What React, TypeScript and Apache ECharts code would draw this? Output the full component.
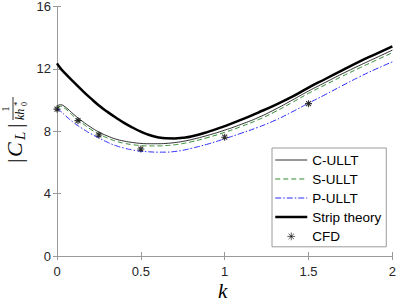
import React, { useEffect, useRef } from "react";
import * as echarts from "echarts";

const kGrid = [0, 0.02, 0.05, 0.1, 0.15, 0.2, 0.25, 0.3, 0.35, 0.4, 0.45, 0.5, 0.55, 0.6, 0.65, 0.7, 0.75, 0.8, 0.9, 1.0, 1.1, 1.2, 1.3, 1.4, 1.5, 1.6, 1.7, 1.8, 1.9, 2.0];
const cUllt = [9.62, 9.7, 9.55, 9.08, 8.65, 8.27, 7.95, 7.7, 7.5, 7.37, 7.28, 7.22, 7.2, 7.2, 7.22, 7.27, 7.35, 7.46, 7.74, 8.07, 8.45, 8.88, 9.4, 9.98, 10.58, 11.13, 11.68, 12.2, 12.7, 13.2];
const sUllt = [9.52, 9.6, 9.44, 8.95, 8.52, 8.13, 7.82, 7.57, 7.37, 7.23, 7.14, 7.08, 7.06, 7.06, 7.08, 7.13, 7.21, 7.32, 7.6, 7.93, 8.31, 8.74, 9.25, 9.83, 10.43, 10.98, 11.52, 12.04, 12.54, 13.04];
const pUllt = [9.48, 9.3, 9.0, 8.55, 8.18, 7.85, 7.57, 7.3, 7.08, 6.92, 6.8, 6.72, 6.68, 6.66, 6.66, 6.7, 6.78, 6.9, 7.18, 7.52, 7.88, 8.26, 8.7, 9.23, 9.8, 10.35, 10.92, 11.47, 11.98, 12.45];
const stripTheory = [12.35, 12.05, 11.7, 11.15, 10.62, 10.12, 9.65, 9.25, 8.88, 8.54, 8.24, 7.97, 7.76, 7.62, 7.55, 7.54, 7.58, 7.66, 7.96, 8.33, 8.74, 9.2, 9.68, 10.2, 10.8, 11.35, 11.9, 12.45, 12.95, 13.45];
const cfdK = [0, 0.125, 0.25, 0.5, 1, 1.5];
const cfdVal = [9.42, 8.68, 7.76, 6.86, 7.62, 9.77];
const xTicks = [0, 0.5, 1, 1.5, 2];
const yTicks = [0, 4, 8, 12, 16];

const seriesNames = ["C-ULLT", "S-ULLT", "P-ULLT", "Strip theory", "CFD"];

const AST = "path://M0,-5L0,5M-5,0L5,0M-3.5,-3.5L3.5,3.5M-3.5,3.5L3.5,-3.5";
const AST_LEGEND = "path://M0,-5L0,5M-5,0L5,0M-3.5,-3.5L3.5,3.5M-3.5,3.5L3.5,-3.5M-9,-9M9,9";

const pairs = (ys: number[]) => kGrid.map((k, i) => [k, ys[i]]);

const AX = "#9a9a9a";
const TXT = "#262626";
const SANS = "Liberation Sans, Arial, sans-serif";
const SERIF = "Liberation Serif, Times New Roman, serif";

const C_COL = "#1a1a1a";
const S_COL = "#2e8b2e";
const P_COL = "#2a2aff";

export default function App() {
  const ref = useRef<HTMLDivElement>(null);
  useEffect(() => {
    if (!ref.current) return;
    const chart = echarts.init(ref.current, undefined, { renderer: "svg" });
    const axisCommon = {
      axisLine: { show: true, lineStyle: { color: AX, width: 1 } },
      axisTick: { show: true, inside: true, length: 4, lineStyle: { color: AX } },
      splitLine: { show: false },
    };
    const hide = { opacity: 0 };
    chart.setOption({
      animation: false,
      backgroundColor: "#fff",
      grid: { left: 57, top: 5, width: 338, height: 251 },
      xAxis: [
        {
          type: "value", min: 0, max: 2, interval: 0.5, ...axisCommon,
          axisLabel: { color: TXT, fontSize: 13, fontFamily: SANS, margin: 9, formatter: (v: number) => (xTicks.includes(v) ? String(v) : "") },
        },
        {
          type: "value", min: 0, max: 2, interval: 0.5, position: "top", ...axisCommon,
          axisLabel: { show: false },
        },
      ],
      yAxis: [
        {
          type: "value", min: 0, max: 16, interval: 4, ...axisCommon,
          axisLabel: { color: TXT, fontSize: 13, fontFamily: SANS, margin: 6, formatter: (v: number) => (yTicks.includes(v) ? String(v) : "") },
        },
        {
          type: "value", min: 0, max: 16, interval: 4, position: "right", ...axisCommon,
          axisLabel: { show: false },
        },
      ],
      legend: {
        orient: "vertical",
        left: 272,
        top: 148,
        width: 115,
        backgroundColor: "#fff",
        borderColor: AX,
        borderWidth: 1,
        borderRadius: 0,
        padding: [5, 5, 3, 2],
        itemWidth: 32,
        itemHeight: 14,
        itemGap: 5,
        itemTextGap: 3,
        textStyle: { color: "#000", fontSize: 13.5, fontFamily: SANS },
        data: [
          { name: "C-ULLT", itemStyle: hide, lineStyle: { width: 0.9, color: C_COL } },
          { name: "S-ULLT", itemStyle: hide, lineStyle: { width: 1, color: S_COL, type: [5, 3] } },
          { name: "P-ULLT", itemStyle: hide, lineStyle: { width: 1, color: P_COL, type: [6, 2, 1.5, 2] } },
          { name: "Strip theory", itemStyle: hide, lineStyle: { width: 2.5, color: "#000" } },
          { name: "CFD", icon: AST_LEGEND, itemStyle: { color: "#000", borderColor: "#000", borderWidth: 0.8 } },
        ],
      },
      series: [
        {
          name: seriesNames[0], type: "line", data: pairs(cUllt), smooth: 0.5, symbol: "none",
          lineStyle: { color: C_COL, width: 0.9 }, itemStyle: { color: C_COL }, z: 3,
        },
        {
          name: seriesNames[1], type: "line", data: pairs(sUllt), smooth: 0.5, symbol: "none",
          lineStyle: { color: S_COL, width: 1, type: [5, 3] }, itemStyle: { color: S_COL }, z: 3,
        },
        {
          name: seriesNames[2], type: "line", data: pairs(pUllt), smooth: 0.5, symbol: "none",
          lineStyle: { color: P_COL, width: 1, type: [6, 2, 1.5, 2] }, itemStyle: { color: P_COL }, z: 3,
        },
        {
          name: seriesNames[3], type: "line", data: pairs(stripTheory), smooth: 0.5, symbol: "none",
          lineStyle: { color: "#000", width: 2.5 }, itemStyle: { color: "#000" }, z: 4,
        },
        {
          name: seriesNames[4], type: "scatter", data: cfdK.map((k, i) => [k, cfdVal[i]]),
          symbol: AST, symbolSize: 7,
          itemStyle: { color: "#000", borderColor: "#000", borderWidth: 1.1 }, z: 5,
        },
      ],
      graphic: [
        {
          type: "text", left: 218, top: 280,
          style: { text: "k", font: `italic 21px ${SERIF}`, fill: "#000" },
        },
        {
          type: "group", x: 0, y: 163, rotation: Math.PI / 2,
          children: [
            { type: "text", x: 0, y: 14, style: { text: "|", font: `22px ${SERIF}`, fill: "#000", verticalAlign: "middle", align: "left" } },
            { type: "text", x: 6, y: 14, style: { text: "C", font: `italic 22px ${SERIF}`, fill: "#000", verticalAlign: "middle", align: "left" } },
            { type: "text", x: 23, y: 20, style: { text: "L", font: `italic 15px ${SERIF}`, fill: "#000", verticalAlign: "middle", align: "left" } },
            { type: "text", x: 35, y: 14, style: { text: "|", font: `22px ${SERIF}`, fill: "#000", verticalAlign: "middle", align: "left" } },
            { type: "text", x: 54, y: 5, style: { text: "1", font: `11px ${SERIF}`, fill: "#000", verticalAlign: "middle", align: "center" } },
            { type: "line", shape: { x1: 43, y1: 13, x2: 66, y2: 13 }, style: { stroke: "#000", lineWidth: 0.8 } },
            { type: "text", x: 43, y: 20, style: { text: "kh", font: `italic 12px ${SERIF}`, fill: "#000", verticalAlign: "middle", align: "left" } },
            { type: "text", x: 57, y: 17, style: { text: "*", font: `9px ${SERIF}`, fill: "#000", verticalAlign: "middle", align: "left" } },
            { type: "text", x: 57, y: 24, style: { text: "0", font: `8px ${SERIF}`, fill: "#000", verticalAlign: "middle", align: "left" } },
          ],
        },
      ],
    });
    return () => chart.dispose();
  }, []);
  return <div ref={ref} style={{ width: 399, height: 301, position: "absolute", left: 0, top: 0 }} />;
}
